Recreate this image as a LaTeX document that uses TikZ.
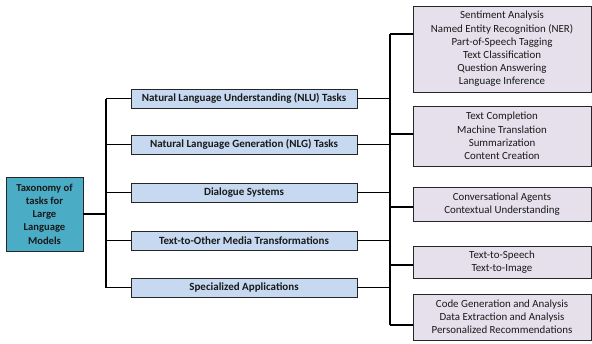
\documentclass[tikz,border=0pt]{standalone}
\usepackage{fontspec}
\setmainfont{Carlito}
\definecolor{rootfill}{HTML}{4BACC6}
\definecolor{midfill}{HTML}{C6D9F1}
\definecolor{leaffill}{HTML}{E5E0EC}
\begin{document}
\begin{tikzpicture}[x=1pt,y=-1pt,
  box/.style={draw=black!85,line width=0.9pt,rectangle,inner sep=0pt,align=center},
  rootbox/.style={box,fill=rootfill,minimum width=77pt,minimum height=74pt,font=\fontsize{10.6}{13.3}\selectfont\bfseries,text=black!90},
  midbox/.style={box,fill=midfill,minimum width=226pt,minimum height=19pt,font=\fontsize{11}{12}\selectfont\bfseries,text=black!90},
  leafbox/.style={box,fill=leaffill,minimum width=178pt,font=\fontsize{10.9}{13.2}\selectfont,text=black!90},
  link/.style={line width=1.8pt,black}]
\useasboundingbox (0,0) rectangle (592,343);
\node[rootbox] (root) at (44.5,214) {Taxonomy of\\tasks for\\Large\\Language\\Models};
\node[midbox] (m1) at (244,98.5) {Natural Language Understanding (NLU) Tasks};
\node[midbox] (m2) at (244,144.5) {Natural Language Generation (NLG) Tasks};
\node[midbox] (m3) at (244,192.5) {Dialogue Systems};
\node[midbox] (m4) at (244,240.5) {Text-to-Other Media Transformations};
\node[midbox] (m5) at (244,287.5) {Specialized Applications};
\node[leafbox,minimum height=86pt] (r1) at (502,49) {Sentiment Analysis\\Named Entity Recognition (NER)\\Part-of-Speech Tagging\\Text Classification\\Question Answering\\Language Inference};
\node[leafbox,minimum height=60pt] (r2) at (502,136) {Text Completion\\Machine Translation\\Summarization\\Content Creation};
\node[leafbox,minimum height=34pt] (r3) at (502,204) {Conversational Agents\\Contextual Understanding};
\node[leafbox,minimum height=32pt] (r4) at (502,262) {Text-to-Speech\\Text-to-Image};
\node[leafbox,minimum height=46pt] (r5) at (502,317) {Code Generation and Analysis\\Data Extraction and Analysis\\Personalized Recommendations};
% left trunk
\coordinate (lj) at (106,214);
\draw[link] (root.east) -- (lj);
\draw[link] (lj |- m1.west) -- (lj |- m5.west);
\foreach \m in {m1,m2,m3,m4,m5} {\draw[link] (lj |- \m.west) -- (\m.west);}
% right trunk
\coordinate (c1) at (390,34);
\coordinate (c2) at (390,134);
\coordinate (c3) at (390,207);
\coordinate (c4) at (390,265);
\coordinate (c5) at (390,325);
\draw[link] (c1) -- (c5);
\foreach \m in {m1,m2,m3,m4,m5} {\draw[link] (\m.east) -- (c1 |- \m.east);}
\draw[link] (c1) -- (r1.west |- c1);
\draw[link] (c2) -- (r2.west |- c2);
\draw[link] (c3) -- (r3.west |- c3);
\draw[link] (c4) -- (r4.west |- c4);
\draw[link] (c5) -- (r5.west |- c5);
\end{tikzpicture}
\end{document}
